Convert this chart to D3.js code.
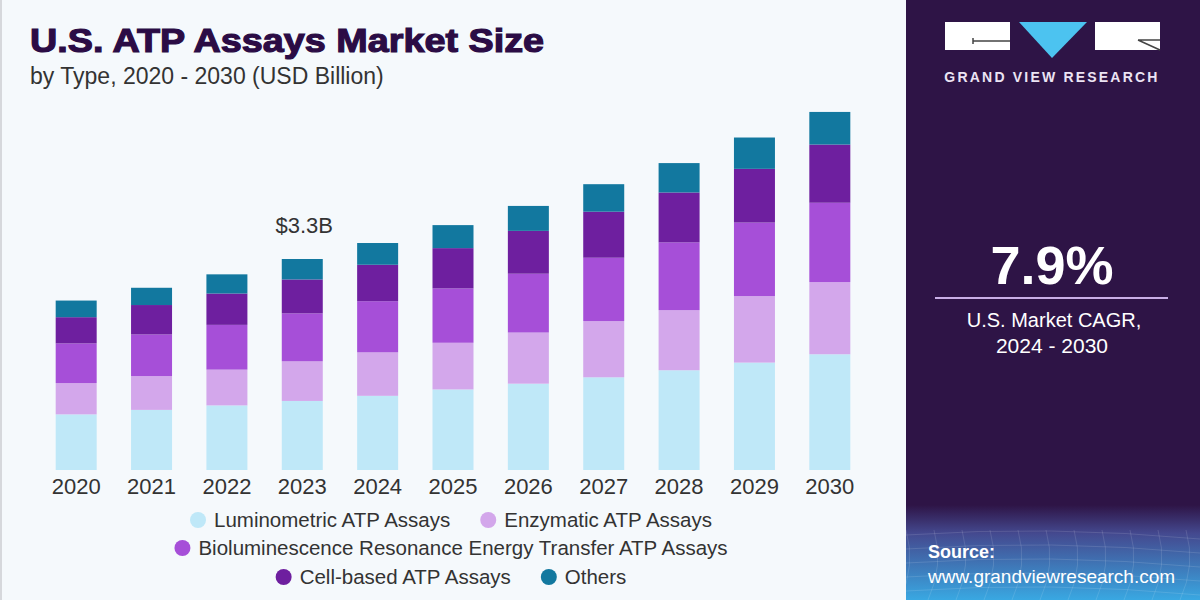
<!DOCTYPE html>
<html>
<head>
<meta charset="utf-8">
<script src="https://cdn.jsdelivr.net/npm/d3@7"></script>
<style>
  body { margin: 0; background: #f5f9fc; }
  svg { display: block; font-family: "Liberation Sans", Arial, sans-serif; }
</style>
</head>
<body>
<svg class="chart" width="1200" height="600"></svg>
<script>
// Data (USD Billion)
const years = ['2020', '2021', '2022', '2023', '2024', '2025', '2026', '2027', '2028', '2029', '2030'];
const luminometric = [0.87, 0.94, 1.01, 1.08, 1.16, 1.26, 1.35, 1.45, 1.56, 1.68, 1.81];
const enzymatic = [0.49, 0.53, 0.56, 0.62, 0.68, 0.73, 0.80, 0.88, 0.94, 1.04, 1.13];
const bret = [0.62, 0.65, 0.70, 0.75, 0.80, 0.85, 0.92, 0.99, 1.06, 1.15, 1.24];
const cellBased = [0.41, 0.46, 0.49, 0.53, 0.57, 0.63, 0.67, 0.72, 0.78, 0.84, 0.91];
const others = [0.26, 0.27, 0.30, 0.32, 0.34, 0.36, 0.39, 0.43, 0.46, 0.49, 0.51];
const seriesNames = [
    'Luminometric ATP Assays',
    'Enzymatic ATP Assays',
    'Bioluminescence Resonance Energy Transfer ATP Assays',
    'Cell-based ATP Assays',
    'Others'
];
const legendRows = [[0, 1], [2], [3, 4]];
const highlightYear = '2023';
const highlightLabel = '$3.3B';

const colors = ['#bfe8f8', '#d3a7eb', '#a64fd8', '#6e1f9f', '#12789f'];

const svg = d3.select('.chart');

// Background and left border
svg.append('rect').attr('width', 1200).attr('height', 600).attr('fill', '#f5f9fc');
svg.append('rect').attr('width', 2).attr('height', 600).attr('fill', '#d6d8dc');

// Title
svg.append('text')
    .attr('x', 30).attr('y', 52)
    .attr('font-weight', 'bold')
    .attr('font-size', 34)
    .attr('textLength', 514)
    .attr('lengthAdjust', 'spacingAndGlyphs')
    .attr('fill', '#2b0c45')
    .attr('stroke', '#2b0c45')
    .attr('stroke-width', 1.2)
    .text('U.S. ATP Assays Market Size');

svg.append('text')
    .attr('x', 30).attr('y', 84)
    .attr('font-size', 23)
    .attr('fill', '#333')
    .text('by Type, 2020 - 2030 (USD Billion)');

// Build the stacked table
const table = years.map((year, i) => ({
    year: year,
    s0: luminometric[i],
    s1: enzymatic[i],
    s2: bret[i],
    s3: cellBased[i],
    s4: others[i]
}));
const keys = ['s0', 's1', 's2', 's3', 's4'];
const stacked = d3.stack().keys(keys)(table);

const x = d3.scaleBand()
    .domain(years)
    .range([38.5, 867.5])
    .paddingInner(0.456)
    .paddingOuter(0.228);

const y = d3.scaleLinear()
    .domain([0, 3.3])
    .range([470, 259]);

const layers = svg.append('g')
    .selectAll('g')
    .data(stacked)
    .join('g')
    .attr('fill', (d, i) => colors[i]);

layers.selectAll('rect')
    .data(d => d)
    .join('rect')
    .attr('x', d => x(d.data.year))
    .attr('y', d => y(d[1]))
    .attr('width', x.bandwidth())
    .attr('height', d => y(d[0]) - y(d[1]));

// Year labels
const xAxis = svg.append('g')
    .attr('transform', 'translate(0,470)')
    .call(d3.axisBottom(x).tickSize(0).tickPadding(8));
xAxis.select('.domain').remove();
xAxis.selectAll('text')
    .attr('font-family', '"Liberation Sans", Arial, sans-serif')
    .attr('font-size', 22)
    .attr('fill', '#333');

// Highlight total
const hiIndex = years.indexOf(highlightYear);
const hiTotal = d3.sum(keys, k => table[hiIndex][k]);
svg.append('text')
    .attr('x', x(highlightYear) + x.bandwidth() / 2 + 2)
    .attr('y', y(hiTotal) - 26)
    .attr('text-anchor', 'middle')
    .attr('font-size', 22)
    .attr('fill', '#333')
    .text(highlightLabel);

// Legend
const legendCenter = 451;
const legendY = [520, 548, 577];
const legendFont = 20.5;
legendRows.forEach((row, r) => {
    const g = svg.append('g');
    let cursor = 0;
    row.forEach((idx, j) => {
        const item = g.append('g').attr('transform', `translate(${cursor},0)`);
        item.append('circle')
            .attr('cx', 8).attr('cy', 0).attr('r', 8)
            .attr('fill', colors[idx]);
        const t = item.append('text')
            .attr('x', 24).attr('y', 7)
            .attr('font-size', legendFont)
            .attr('fill', '#333')
            .text(seriesNames[idx]);
        cursor += 24 + t.node().getComputedTextLength() + 30;
    });
    const width = cursor - 30;
    g.attr('transform', `translate(${legendCenter - width / 2},${legendY[r]})`);
});

// Right panel
const panel = svg.append('g');
const defs = svg.append('defs');
const grad = defs.append('linearGradient')
    .attr('id', 'srcGrad')
    .attr('x1', 0).attr('y1', 0).attr('x2', 0).attr('y2', 1);
grad.append('stop').attr('offset', '0%').attr('stop-color', '#2e1446');
grad.append('stop').attr('offset', '30%').attr('stop-color', '#44498f');
grad.append('stop').attr('offset', '100%').attr('stop-color', '#39a8e2');

panel.append('rect')
    .attr('x', 906).attr('y', 0).attr('width', 294).attr('height', 600)
    .attr('fill', '#2e1446');
panel.append('rect')
    .attr('x', 906).attr('y', 505).attr('width', 294).attr('height', 95)
    .attr('fill', 'url(#srcGrad)');

// faint grid texture in the source box
const grid = panel.append('g')
    .attr('stroke', '#ffffff')
    .attr('stroke-opacity', 0.12)
    .attr('stroke-width', 1)
    .attr('fill', 'none');
d3.range(0, 12).forEach(i => {
    const gx = 906 + i * 28;
    grid.append('path').attr('d', `M${gx},530 Q${gx + 10},565 ${gx - 6},600`);
});
d3.range(0, 5).forEach(i => {
    const gy = 535 + i * 14;
    grid.append('path').attr('d', `M906,${gy} Q1050,${gy - 10} 1200,${gy + 4}`);
});

// Logo
panel.append('rect').attr('x', 945).attr('y', 22).attr('width', 65).attr('height', 28).attr('fill', '#ffffff');
panel.append('path').attr('d', 'M1019,22 L1087,22 L1052,58 Z').attr('fill', '#4cc3f0');
panel.append('rect').attr('x', 1095).attr('y', 22).attr('width', 65).attr('height', 28).attr('fill', '#ffffff');
panel.append('path')
    .attr('d', 'M973,38 L973,44 M973,41 L1010,41')
    .attr('stroke', '#444').attr('stroke-width', 1.5).attr('fill', 'none');
panel.append('path')
    .attr('d', 'M1138,40 L1160,40 M1138,40 L1160,50')
    .attr('stroke', '#444').attr('stroke-width', 1.5).attr('fill', 'none');
panel.append('text')
    .attr('x', 1052).attr('y', 82)
    .attr('text-anchor', 'middle')
    .attr('font-weight', 'bold')
    .attr('font-size', 14)
    .attr('letter-spacing', 2.2)
    .attr('fill', '#ece4f4')
    .text('GRAND VIEW RESEARCH');

// CAGR block
panel.append('text')
    .attr('x', 1052).attr('y', 284)
    .attr('text-anchor', 'middle')
    .attr('font-weight', 'bold')
    .attr('font-size', 54)
    .attr('fill', '#ffffff')
    .text('7.9%');
panel.append('line')
    .attr('x1', 935).attr('x2', 1168).attr('y1', 298).attr('y2', 298)
    .attr('stroke', '#c9aee6').attr('stroke-width', 2);
panel.append('text')
    .attr('x', 1054).attr('y', 327)
    .attr('text-anchor', 'middle')
    .attr('font-size', 20)
    .attr('fill', '#ffffff')
    .text('U.S. Market CAGR,');
panel.append('text')
    .attr('x', 1052).attr('y', 353)
    .attr('text-anchor', 'middle')
    .attr('font-size', 21)
    .attr('fill', '#ffffff')
    .text('2024 - 2030');

// Source
panel.append('text')
    .attr('x', 928).attr('y', 558)
    .attr('font-weight', 'bold')
    .attr('font-size', 18)
    .attr('fill', '#ffffff')
    .text('Source:');
panel.append('text')
    .attr('x', 928).attr('y', 583)
    .attr('font-size', 19)
    .attr('fill', '#ffffff')
    .text('www.grandviewresearch.com');
</script>
</body>
</html>
